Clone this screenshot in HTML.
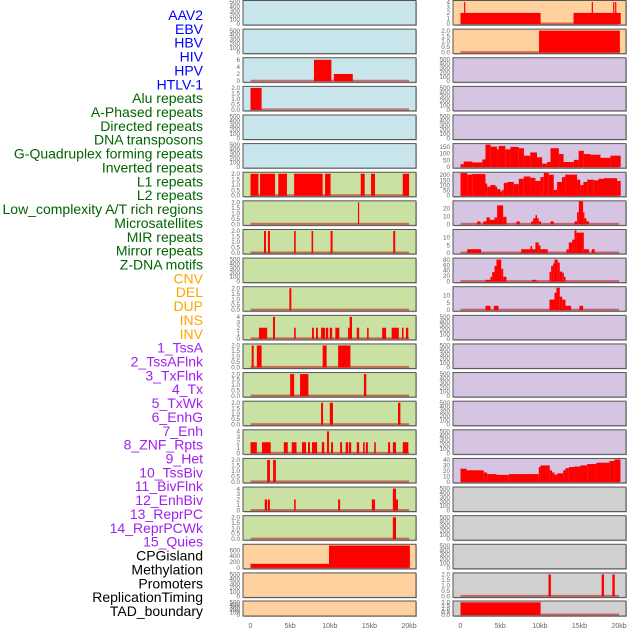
<!DOCTYPE html>
<html><head><meta charset="utf-8">
<style>
html,body{margin:0;padding:0;background:#fff;}
svg{display:block;font-family:"Liberation Sans",sans-serif;}
</style></head>
<body>
<svg id="chart" width="630" height="630" viewBox="0 0 630 630"></svg>
<script>
const trackLabels = ["AAV2","EBV","HBV","HIV","HPV","HTLV-1","Alu repeats","A-Phased repeats","Directed repeats","DNA transposons","G-Quadruplex forming repeats","Inverted repeats","L1 repeats","L2 repeats","Low_complexity A/T rich regions","Microsatellites","MIR repeats","Mirror repeats","Z-DNA motifs","CNV","DEL","DUP","INS","INV","1_TssA","2_TssAFlnk","3_TxFlnk","4_Tx","5_TxWk","6_EnhG","7_Enh","8_ZNF_Rpts","9_Het","10_TssBiv","11_BivFlnk","12_EnhBiv","13_ReprPC","14_ReprPCWk","15_Quies","CPGisland","Methylation","Promoters","ReplicationTiming","TAD_boundary"];
const labelGroups = [0,0,0,0,0,0,1,1,1,1,1,1,1,1,1,1,1,1,1,2,2,2,2,2,3,3,3,3,3,3,3,3,3,3,3,3,3,3,3,4,4,4,4,4];
const groupColors = ["#0000ff","#006400","#ffa500","#a020f0","#000000"];
const xTickValues = [0,5,10,15,20];
const xTickLabels = ["0","5kb","10kb","15kb","20kb"];
const emptyTicks = [0,100,200,300,400,500];
const ticks2 = [0,0.5,1,1.5,2];
const ticks2Lab = ["0.0","0.5","1.0","1.5","2.0"];
const ticks4 = [0,1,2,3,4];
// left column: panel bg group, y max, ticks, segments [startKb,endKb,value]
const leftBg = [0,0,0,0,0,0,1,1,1,1,1,1,1,1,1,1,1,1,1,2,2,2];
const leftYMax = [510,510,6.3,2.05,510,510,2.05,2.05,2.05,510,2.05,4.1,2.05,2.05,2.05,4.1,2.05,4.1,2.05,770,510,510];
const leftSegs = [
 [],[],
 [[8.0,10.2,6],[10.5,12.9,2]],
 [[0,1.4,2]],
 [],[],
 [[0,1.0,2],[1.2,3.1,2],[3.5,4.6,2],[5.5,9.1,2],[9.4,10.1,2],[13.9,14.4,2],[15.2,15.7,2],[19.2,20,2]],
 [[13.55,13.7,2]],
 [[1.7,1.95,2],[2.2,2.45,2],[5.5,5.7,2],[7.7,7.9,2],[10.1,10.35,2],[18.0,18.25,2]],
 [],
 [[4.9,5.15,2]],
 [[1.07,2.1,2],[2.84,3.09,4],[5.5,5.7,2],[7.76,8.0,2],[8.26,8.5,2],[8.9,9.4,2],[9.5,9.8,2],[10.0,10.3,2],[10.7,11.2,2],[12.3,12.5,2],[12.5,12.8,4],[13.4,13.7,2],[14.7,14.9,2],[16.6,17.1,2],[17.8,18.7,2],[19.1,19.3,2],[19.6,19.9,2]],
 [[0.15,0.4,2],[0.8,1.4,2],[9.1,9.6,2],[11.05,12.6,2]],
 [[5.0,5.5,2],[6.25,7.3,2],[14.3,14.6,2]],
 [[8.9,9.15,2],[10.0,10.4,2],[18.6,18.9,2]],
 [[0,0.8,2],[1.45,2.55,2],[4.2,4.7,2],[5.2,5.8,2],[6.5,7.0,2],[7.25,7.5,2],[7.75,8.4,2],[9.0,9.3,2],[9.65,9.9,4],[10.15,10.4,2],[11.3,11.55,2],[12.0,12.3,2],[12.4,12.7,2],[13.4,13.7,2],[14.2,14.4,2],[14.55,14.8,2],[15.6,15.8,2],[17.35,17.6,2],[17.95,18.35,2],[19.2,19.9,2]],
 [[2.1,2.45,2],[2.85,3.2,2]],
 [[1.8,2.1,2],[2.2,2.45,2],[5.5,5.7,2],[11.05,11.3,2],[15.3,15.7,2],[17.95,18.35,4],[18.35,18.6,2]],
 [[17.95,18.35,2]],
 [[0,9.9,130],[9.9,20.1,760]],
 [],[]
];
const leftTicks = [emptyTicks,emptyTicks,[0,2,4,6],ticks2,emptyTicks,emptyTicks,ticks2,ticks2,ticks2,emptyTicks,ticks2,ticks4,ticks2,ticks2,ticks2,ticks4,ticks2,ticks4,ticks2,[0,200,400,600],emptyTicks,emptyTicks];
// right column
const rightBg = [2,2,3,3,3,3,3,3,3,3,3,3,3,3,3,3,3,4,4,4,4,4];
const rightYMax = [4.1,2.05,510,510,510,165,217,28.5,14.5,82,15,510,510,510,510,510,41,510,510,510,2.05,2.05];
const rightSegs = [
 [[0,10.1,2],[14.25,20.2,2],[0.45,0.6,4],[16.55,16.7,4],[19.25,19.4,4],[19.5,19.65,4]],
 [[9.9,20.1,2]],
 [],[],[],
 [[0,0.4,20],[0.4,1.5,40],[1.5,2.75,33],[2.75,3.15,55],[3.15,3.8,165],[3.8,4.6,150],[4.6,4.8,130],[4.8,5.65,155],[5.65,6.3,130],[6.3,7.35,148],[7.35,8.0,138],[8.0,8.8,83],[8.8,9.65,107],[9.65,10.3,71],[10.3,10.9,24],[10.9,11.35,36],[11.35,12.4,138],[12.4,13.0,95],[13.0,14.3,36],[14.3,14.9,52],[14.9,15.55,119],[15.55,16.4,95],[16.4,17.65,90],[17.65,18.9,67],[18.9,20.2,83]],
 [[0,0.84,219],[0.84,1.47,203],[1.47,3.15,209],[3.15,3.36,117],[3.36,3.78,86],[3.78,4.41,102],[4.41,4.62,86],[4.62,5.04,62],[5.04,5.25,40],[5.25,5.46,55],[5.46,5.88,123],[5.88,6.72,132],[6.72,7.35,111],[7.35,7.98,163],[7.98,8.82,185],[8.82,9.45,172],[9.45,10.08,142],[10.08,10.5,179],[10.5,11.13,219],[11.13,11.76,203],[11.76,12.18,55],[12.18,12.8,132],[12.8,13.2,179],[13.2,14.7,203],[14.7,15.1,154],[15.1,15.5,102],[15.5,15.97,132],[15.97,16.8,154],[16.8,17.4,148],[17.4,18.1,163],[18.1,19.75,169],[19.75,20.2,142]],
 [[2.1,2.52,3.5],[2.86,3.28,3.5],[3.28,3.7,8.6],[3.7,4.29,5.5],[4.29,4.62,8.6],[4.62,5.38,24],[5.38,5.8,9.4],[7.06,7.48,3.5],[8.9,9.16,3.5],[9.16,9.45,7.5],[9.45,9.66,11.4],[9.66,9.87,7.5],[9.87,10.17,3.5],[11.34,11.76,3.5],[14.37,14.7,3.5],[14.7,14.92,15.3],[14.92,15.46,29],[15.46,15.63,15],[15.63,15.88,7.5],[15.88,16.2,3.5]],
 [[0.84,2.6,2.3],[7.65,8.82,2.3],[8.82,9.03,4.4],[9.03,9.45,2.3],[9.45,9.87,6.7],[9.87,10.08,4.8],[10.08,11.0,2.3],[13.36,13.66,2.3],[13.66,14.08,6.7],[14.08,14.37,8.5],[14.37,14.62,14.6],[14.62,15.55,13.1],[15.55,16.2,2.3],[16.55,16.93,2.3]],
 [[3.15,3.78,5.7],[3.78,3.99,17],[3.99,4.29,34],[4.29,4.54,57],[4.54,5.13,80],[5.13,5.38,46],[5.38,5.8,17],[9.03,9.58,5.7],[11.22,11.43,34],[11.43,11.68,57],[11.68,11.85,66],[11.85,12.27,80],[12.27,12.52,69],[12.52,12.82,36],[12.82,13.03,32],[13.03,13.24,17]],
 [[3.15,3.78,2.8],[4.2,4.79,2.8],[11.22,11.85,7],[11.85,12.1,11.7],[12.1,12.52,15],[12.52,12.82,9],[12.82,13.24,7],[13.24,13.95,2.8],[15.0,15.46,2.8]],
 [],[],[],[],[],
 [[0,0.76,24],[0.76,2.94,21],[2.94,3.36,17],[3.36,4.54,14],[4.54,6.09,12.6],[6.09,9.87,14],[9.87,10.08,27],[10.08,11.26,30],[11.26,11.55,21],[11.55,11.85,17],[11.85,12.18,13],[12.18,12.94,15.4],[12.94,13.24,21],[13.24,13.66,25],[13.66,14.37,27],[14.37,15.13,28],[15.13,15.97,30],[15.97,17.14,32.5],[17.14,18.78,35],[18.78,19.41,38],[19.41,20.17,41]],
 [],[],[],
 [[11.1,11.4,2],[17.8,18.1,2],[19.15,19.45,2]],
 [[0,10.1,2]]
];
const rightTicks = [ticks4,ticks2,emptyTicks,emptyTicks,emptyTicks,[0,50,100,150],[0,50,100,150,200],[0,10,20],[0,5,10],[0,20,40,60,80],[0,5,10],emptyTicks,emptyTicks,emptyTicks,emptyTicks,emptyTicks,[0,10,20,30,40],emptyTicks,emptyTicks,emptyTicks,ticks2,ticks2];

const bgColors = ["#c9e5ec","#c9e1a3","#fed19f","#d5c5e2","#d0d0d0"];
const NS = "http://www.w3.org/2000/svg";
const svg = document.getElementById("chart");
function el(tag, attrs, parent){const e=document.createElementNS(NS,tag);for(const k in attrs)e.setAttribute(k,attrs[k]);(parent||svg).appendChild(e);return e;}
const cols = [{x0:243,x1:416,zero:250.5,bg:leftBg,ymax:leftYMax,segs:leftSegs,ticks:leftTicks,name:"left"},
              {x0:453,x1:626,zero:460.5,bg:rightBg,ymax:rightYMax,segs:rightSegs,ticks:rightTicks,name:"right"}];
const kbPx = 7.93;
function rowTop(r){return r===21?601:0.5+r*28.62;}
function rowH(r){return r===21?15:24.5;}
function fmt(t,ticks){return ticks===ticks2?t.toFixed(1):String(t);}

// labels
trackLabels.forEach((lab,i)=>{
  const t=el("text",{x:203,y:15+i*13.86+5,"text-anchor":"end","font-size":"14",fill:groupColors[labelGroups[i]]});
  t.textContent=lab;
  
  
});

cols.forEach(c=>{
  for(let r=0;r<22;r++){
    const top=rowTop(r), h=rowH(r), bot=top+h;
    const g=el("g",{});
    
    
    el("rect",{x:c.x0+1,y:top+1,width:c.x1-c.x0,height:h,fill:"#bbb"},g);
    el("rect",{x:c.x0,y:top,width:c.x1-c.x0,height:h,fill:bgColors[c.bg[r]],stroke:"#555","stroke-width":1},g);
    const ymax=c.ymax[r];
    const yPix=v=>bot-1.2-v/ymax*(h-2.2);
    const xPix=kb=>c.zero+kb*kbPx;
    const segs=c.segs[r];
    if(segs.length){
      el("rect",{x:xPix(0),y:bot-2.5,width:20*kbPx,height:2,fill:"#b00","opacity":0.5},g);
    }
    segs.forEach(s=>{
      const y=Math.max(yPix(s[2]),top+0.5);
      const b=el("rect",{x:xPix(s[0]),y:y,width:Math.max(1.2,xPix(s[1])-xPix(s[0])),height:bot-1-y,fill:"#ff0000"},g);
      
      
    });
    const tks=c.ticks[r];
    tks.forEach(t=>{
      const tx=el("text",{x:c.x0-3,y:yPix(t)+2.2,"text-anchor":"end","font-size":"6.3",fill:"#666"},g);
      tx.textContent=fmt(t,tks);
      
      
    });
  }
  xTickValues.forEach((v,i)=>{
    const tx=el("text",{x:c.zero+v*kbPx,y:628,"text-anchor":"middle","font-size":"7",fill:"#666"});
    tx.textContent=xTickLabels[i];
    
    
  });
});
</script>
</body></html>
